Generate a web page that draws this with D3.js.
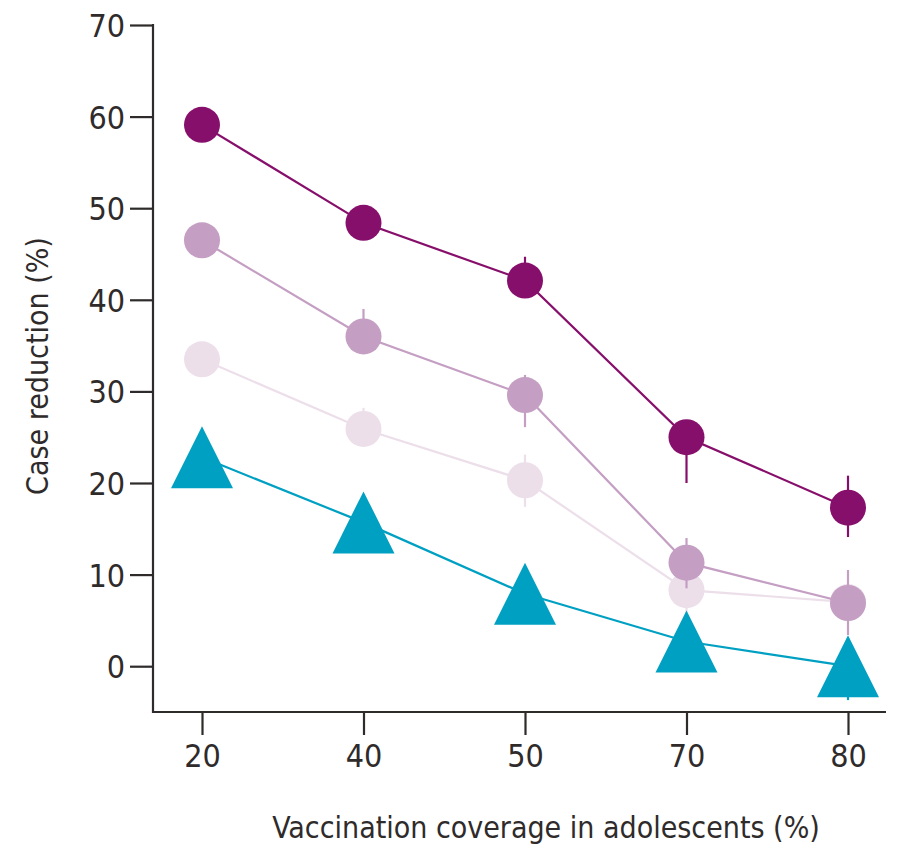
<!DOCTYPE html>
<html>
<head>
<meta charset="utf-8">
<script src="https://cdn.jsdelivr.net/npm/d3@7"></script>
<style>
  html, body { margin: 0; padding: 0; background: #fff; }
  svg { display: block; }
  text { font-family: "Liberation Sans Narrow", "DejaVu Sans Condensed", sans-serif; fill: #2f2b2b; }
</style>
</head>
<body>
<svg id="chart" width="897" height="851"></svg>
<script>
// Vaccination coverage categories (x axis)
const coverage = ["20", "40", "50", "70", "80"];
const yTicks = [0, 10, 20, 30, 40, 50, 60, 70];

// Case reduction (%) for each scenario, with interval bounds
const darkMean = [59.1, 48.4, 42.1, 25.0, 17.3];
const darkLow  = [59.1, 48.4, 42.1, 20.0, 14.1];
const darkHigh = [59.1, 48.4, 44.7, 25.0, 20.8];

const midMean = [46.5, 36.0, 29.6, 11.3, 6.9];
const midLow  = [46.5, 36.0, 26.1, 8.5, 3.4];
const midHigh = [46.5, 39.0, 31.8, 14.0, 10.5];

const lightMean = [33.5, 25.9, 20.3, 8.3, 7.0];
const lightLow  = [33.5, 25.9, 17.4, 5.8, 7.0];
const lightHigh = [33.5, 28.2, 23.1, 8.3, 7.0];

const tealMean = [22.8, 15.7, 7.9, 2.7, 0.0];
const tealLow  = [22.8, 15.7, 7.9, 2.7, -3.7];
const tealHigh = [22.8, 15.7, 7.9, 2.7, 0.0];

const series = [
  { mean: lightMean, low: lightLow, high: lightHigh, color: "#ecdfea", shape: "circle" },
  { mean: midMean,   low: midLow,   high: midHigh,   color: "#c49ec3", shape: "circle" },
  { mean: darkMean,  low: darkLow,  high: darkHigh,  color: "#870f6c", shape: "circle" },
  { mean: tealMean,  low: tealLow,  high: tealHigh,  color: "#00a0c3", shape: "triangle" }
];

const svg = d3.select("#chart");
const axisLeftX = 153, axisRightX = 886, axisTopY = 25, axisBottomY = 712;

const x = d3.scalePoint().domain(coverage).range([202, 848]);
const y = d3.scaleLinear().domain([-5, 70]).range([axisBottomY, axisTopY]);

const axisColor = "#2f2b2b";

// Y axis
const yAxis = svg.append("g")
  .attr("transform", `translate(${axisLeftX},0)`)
  .call(d3.axisLeft(y).tickValues(yTicks).tickSize(23).tickPadding(5).tickSizeOuter(0));
yAxis.select(".domain").remove();
yAxis.append("line")
  .attr("x1", 0).attr("x2", 0)
  .attr("y1", y(70) - 1).attr("y2", axisBottomY + 1)
  .attr("stroke", axisColor).attr("stroke-width", 2.2);
yAxis.selectAll(".tick line").attr("stroke", axisColor).attr("stroke-width", 2.2);
yAxis.selectAll(".tick text")
  .attr("fill", axisColor)
  .style("font-size", "32px")
  .attr("dy", "0.36em");

// X axis
const xAxis = svg.append("g")
  .attr("transform", `translate(0,${axisBottomY})`)
  .call(d3.axisBottom(x).tickSize(23).tickPadding(9).tickSizeOuter(0));
xAxis.select(".domain").remove();
xAxis.append("line")
  .attr("x1", axisLeftX - 1).attr("x2", axisRightX)
  .attr("y1", 0).attr("y2", 0)
  .attr("stroke", axisColor).attr("stroke-width", 2.2);
xAxis.selectAll(".tick line").attr("stroke", axisColor).attr("stroke-width", 2.2);
xAxis.selectAll(".tick text")
  .attr("fill", axisColor)
  .style("font-size", "32px");

// Axis titles
svg.append("text")
  .attr("x", 546).attr("y", 838)
  .attr("text-anchor", "middle")
  .style("font-size", "30px")
  .text("Vaccination coverage in adolescents (%)");

svg.append("text")
  .attr("transform", "translate(48,366) rotate(-90)")
  .attr("text-anchor", "middle")
  .style("font-size", "30px")
  .text("Case reduction (%)");

// Series: connecting line, interval bars, markers
const line = d3.line().x((d, i) => x(coverage[i])).y(d => y(d));
const circleR = 18;
const triSize = 62;
const triPath = `M0,${-triSize / 2} L${triSize / 2},${triSize / 2} L${-triSize / 2},${triSize / 2} Z`;

series.forEach(s => {
  const g = svg.append("g");
  g.append("path")
    .attr("d", line(s.mean))
    .attr("fill", "none")
    .attr("stroke", s.color)
    .attr("stroke-width", 2.2);

  g.selectAll("line.err")
    .data(coverage)
    .join("line")
    .attr("class", "err")
    .attr("x1", d => x(d)).attr("x2", d => x(d))
    .attr("y1", (d, i) => y(s.low[i]))
    .attr("y2", (d, i) => y(s.high[i]))
    .attr("stroke", s.color)
    .attr("stroke-width", 2.2);

  if (s.shape === "circle") {
    g.selectAll("circle")
      .data(s.mean)
      .join("circle")
      .attr("cx", (d, i) => x(coverage[i]))
      .attr("cy", d => y(d))
      .attr("r", circleR)
      .attr("fill", s.color);
  } else {
    g.selectAll("path.tri")
      .data(s.mean)
      .join("path")
      .attr("class", "tri")
      .attr("d", triPath)
      .attr("transform", (d, i) => `translate(${x(coverage[i])},${y(d)})`)
      .attr("fill", s.color);
  }
});
</script>
</body>
</html>
